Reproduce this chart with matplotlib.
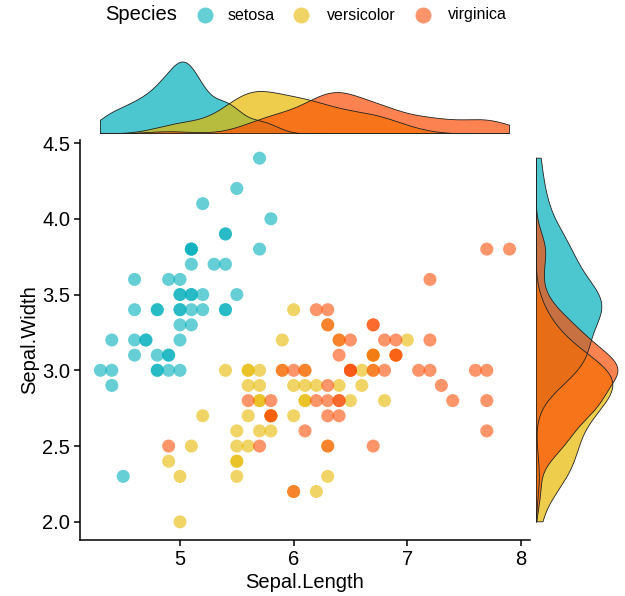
import numpy as np
import matplotlib
matplotlib.use("Agg")
import matplotlib.pyplot as plt
from matplotlib.lines import Line2D

plt.rcParams['font.family'] = ['Liberation Sans', 'DejaVu Sans']

species = ["setosa", "versicolor", "virginica"]
colors = ["#00AFBB", "#E7B800", "#FC4E07"]

setosa_sl = [5.1,4.9,4.7,4.6,5.0,5.4,4.6,5.0,4.4,4.9,5.4,4.8,4.8,4.3,5.8,5.7,5.4,5.1,5.7,5.1,
             5.4,5.1,4.6,5.1,4.8,5.0,5.0,5.2,5.2,4.7,4.8,5.4,5.2,5.5,4.9,5.0,5.5,4.9,4.4,5.1,
             5.0,4.5,4.4,5.0,5.1,4.8,5.1,4.6,5.3,5.0]
setosa_sw = [3.5,3.0,3.2,3.1,3.6,3.9,3.4,3.4,2.9,3.1,3.7,3.4,3.0,3.0,4.0,4.4,3.9,3.5,3.8,3.8,
             3.4,3.7,3.6,3.3,3.4,3.0,3.4,3.5,3.4,3.2,3.1,3.4,4.1,4.2,3.1,3.2,3.5,3.6,3.0,3.4,
             3.5,2.3,3.2,3.5,3.8,3.0,3.8,3.2,3.7,3.3]
versicolor_sl = [7.0,6.4,6.9,5.5,6.5,5.7,6.3,4.9,6.6,5.2,5.0,5.9,6.0,6.1,5.6,6.7,5.6,5.8,6.2,5.6,
                 5.9,6.1,6.3,6.1,6.4,6.6,6.8,6.7,6.0,5.7,5.5,5.5,5.8,6.0,5.4,6.0,6.7,6.3,5.6,5.5,
                 5.5,6.1,5.8,5.0,5.6,5.7,5.7,6.2,5.1,5.7]
versicolor_sw = [3.2,3.2,3.1,2.3,2.8,2.8,3.3,2.4,2.9,2.7,2.0,3.0,2.2,2.9,2.9,3.1,3.0,2.7,2.2,2.5,
                 3.2,2.8,2.5,2.8,2.9,3.0,2.8,3.0,2.9,2.6,2.4,2.4,2.7,2.7,3.0,3.4,3.1,2.3,3.0,2.5,
                 2.6,3.0,2.6,2.3,2.7,3.0,2.9,2.9,2.5,2.8]
virginica_sl = [6.3,5.8,7.1,6.3,6.5,7.6,4.9,7.3,6.7,7.2,6.5,6.4,6.8,5.7,5.8,6.4,6.5,7.7,7.7,6.0,
                6.9,5.6,7.7,6.3,6.7,7.2,6.2,6.1,6.4,7.2,7.4,7.9,6.4,6.3,6.1,7.7,6.3,6.4,6.0,6.9,
                6.7,6.9,5.8,6.8,6.7,6.7,6.3,6.5,6.2,5.9]
virginica_sw = [3.3,2.7,3.0,2.9,3.0,3.0,2.5,2.9,2.5,3.6,3.2,2.7,3.0,2.5,2.8,3.2,3.0,3.8,2.6,2.2,
                3.2,2.8,2.8,2.7,3.3,3.2,2.8,3.0,2.8,3.0,2.8,3.8,2.8,2.8,2.6,3.0,3.4,3.1,3.0,3.1,
                3.1,3.1,2.7,3.2,3.3,3.0,2.5,3.0,3.4,3.0]

sl = [setosa_sl, versicolor_sl, virginica_sl]
sw = [setosa_sw, versicolor_sw, virginica_sw]

x_ticks = [5, 6, 7, 8]
y_ticks = [2.0, 2.5, 3.0, 3.5, 4.0, 4.5]


def bw_nrd0(x):
    x = np.asarray(x)
    q75, q25 = np.percentile(x, [75, 25])
    lo = min(np.std(x, ddof=1), (q75 - q25) / 1.34)
    return 0.9 * lo * len(x) ** (-0.2)


def kde(x, grid):
    x = np.asarray(x)
    h = bw_nrd0(x)
    z = (grid[:, None] - x[None, :]) / h
    return np.exp(-0.5 * z ** 2).sum(axis=1) / (len(x) * h * np.sqrt(2 * np.pi))


all_sl = np.concatenate(sl)
all_sw = np.concatenate(sw)
xmin, xmax = all_sl.min(), all_sl.max()
ymin, ymax = all_sw.min(), all_sw.max()
xpad = (xmax - xmin) * 0.05
ypad = (ymax - ymin) * 0.05

W, H = 625, 596
fig = plt.figure(figsize=(W / 100, H / 100), dpi=100)

def px_axes(l, t, r, b):
    return fig.add_axes([l / W, 1 - b / H, (r - l) / W, (b - t) / H])

ax = px_axes(80, 140, 530, 540)
axt = px_axes(80, 56, 530, 134)
axr = px_axes(536, 140, 622, 540)

for s, c, x, y in zip(species, colors, sl, sw):
    ax.scatter(x, y, s=88, color=c, alpha=0.6, edgecolors='none', zorder=2)

ax.set_xlim(xmin - xpad, xmax + xpad)
ax.set_ylim(ymin - ypad, ymax + ypad)
ax.set_xticks(x_ticks)
ax.set_yticks(y_ticks)
ax.set_yticklabels([f"{v:.1f}" for v in y_ticks])
ax.spines['top'].set_visible(False)
ax.spines['right'].set_visible(False)
for sp in ['left', 'bottom']:
    ax.spines[sp].set_linewidth(1.1)
ax.tick_params(direction='out', length=4.5, width=1.1, labelsize=14.5, colors='black', pad=2.5)
ax.set_xlabel("Sepal.Length", fontsize=14.5, labelpad=3)
ax.set_ylabel("Sepal.Width", fontsize=14.5, labelpad=2)

# top marginal density
gx = np.linspace(xmin, xmax, 512)
tmax = 0
for c, x in zip(colors, sl):
    d = kde(x, gx)
    tmax = max(tmax, d.max())
    axt.fill(np.concatenate([[gx[0]], gx, [gx[-1]]]), np.concatenate([[0], d, [0]]),
             facecolor=c, alpha=0.7, edgecolor='none')
    axt.plot(np.concatenate([[gx[0]], gx, [gx[-1]], [gx[0]]]),
             np.concatenate([[0], d, [0], [0]]), color='#222222', lw=0.6)
axt.set_xlim(ax.get_xlim())
axt.set_ylim(0, tmax * 1.083)
axt.axis('off')

# right marginal density
gy = np.linspace(ymin, ymax, 512)
rmax = 0
for c, y in zip(colors, sw):
    d = kde(y, gy)
    rmax = max(rmax, d.max())
    axr.fill(np.concatenate([[0], d, [0]]), np.concatenate([[gy[0]], gy, [gy[-1]]]),
             facecolor=c, alpha=0.7, edgecolor='none')
    axr.plot(np.concatenate([[0], d, [0], [0]]),
             np.concatenate([[gy[0]], gy, [gy[-1]], [gy[0]]]), color='#222222', lw=0.6)
axr.set_ylim(ax.get_ylim())
axr.set_xlim(0, rmax * 1.05)
axr.axis('off')

# legend
fig.text(105 / W, 1 - 15 / H, "Species", fontsize=14.5, va='center', ha='left')
leg_marker_x = [205, 301, 423]
leg_text_x = [228, 327, 448]
for c, s, mx, tx in zip(colors, species, leg_marker_x, leg_text_x):
    fig.add_artist(Line2D([mx / W], [1 - 15 / H], marker='o', markersize=11.5, color=c,
                          alpha=0.6, markeredgewidth=0, linestyle='none',
                          transform=fig.transFigure))
    fig.text(tx / W, 1 - 15 / H, s, fontsize=11.5, va='center', ha='left')

fig.savefig("out.png", dpi=100)
